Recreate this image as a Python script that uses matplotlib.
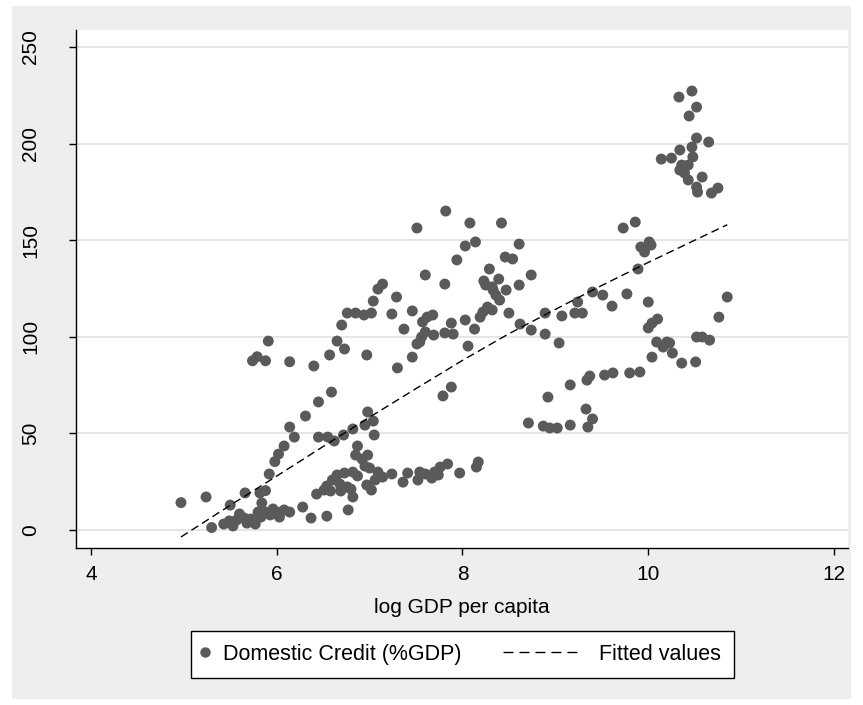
import numpy as np
import matplotlib
matplotlib.use('Agg')
import matplotlib.pyplot as plt
from matplotlib.patches import Rectangle
from matplotlib.lines import Line2D
from matplotlib.legend_handler import HandlerLine2D

# scatter: log GDP per capita vs domestic credit (% of GDP)
log_gdp = [
    4.97, 5.24, 5.30, 5.50, 5.66, 5.82, 5.88, 5.92, 5.98, 6.02, 6.08, 6.14, 6.19,
    5.43, 5.49, 5.53, 5.57, 5.60, 5.65, 5.68, 5.72, 5.77, 5.80, 5.83, 5.84, 5.88,
    5.93, 5.96, 6.00, 6.03, 6.08, 6.14, 5.74, 5.79, 5.88, 5.91, 6.14,
    6.28, 6.37, 6.54, 6.43, 6.51, 6.54, 6.58, 6.60, 6.65, 6.68, 6.69, 6.73, 6.76,
    6.80, 6.82, 6.82, 6.87, 6.77, 6.31, 6.45, 6.59, 6.45, 6.55, 6.62, 6.72, 6.82,
    6.87, 6.85, 6.92, 6.98, 6.95, 7.00, 6.95, 6.98, 7.04, 7.05, 7.09, 7.14, 7.06,
    6.97, 7.02, 7.24, 7.36, 7.41, 7.52, 7.54, 7.60, 7.67, 7.70, 7.74, 7.76, 7.84,
    7.97, 8.15, 8.17,
    6.65, 6.73, 6.70, 6.57, 6.40, 6.76, 6.85, 6.94, 7.02, 7.04, 7.09, 7.14, 6.97,
    7.24, 7.29, 7.30, 7.46, 7.37, 7.46, 7.51, 7.62, 7.68, 7.57, 7.60, 7.56, 7.54,
    7.51, 7.69, 7.60,
    7.82, 8.08, 8.42, 8.03, 8.14, 8.61, 7.94, 8.46, 8.54, 8.29, 7.81, 8.23, 8.25,
    8.39, 8.47, 8.61, 8.74, 8.33, 8.36, 8.40, 8.32, 8.32, 7.81, 7.90, 7.88, 8.03,
    8.13, 8.19, 8.22, 8.27, 8.06, 8.50, 8.62, 8.74, 8.89, 8.89, 9.04, 9.07, 7.88,
    7.79,
    8.71, 8.87, 8.94, 9.02, 9.16, 8.92, 9.16, 9.34, 9.37, 9.53, 9.62, 9.80, 9.91,
    9.33, 9.40, 9.35,
    9.21, 9.29, 9.24, 9.40, 9.51, 9.61, 9.77, 9.73, 9.86, 9.92, 9.96, 10.01, 10.03,
    9.89, 10.00, 10.00, 10.04, 10.10, 10.09, 10.16, 10.20, 10.23, 10.04, 10.26,
    10.36, 10.51, 10.52, 10.58, 10.66, 10.76, 10.85,
    10.33, 10.47, 10.52, 10.44, 10.52, 10.65, 10.47, 10.14, 10.25, 10.34, 10.48,
    10.36, 10.43, 10.34, 10.39, 10.58, 10.43, 10.52, 10.53, 10.68, 10.75,
]
credit = [
    14.2, 17.1, 1.3, 12.9, 19.2, 19.2, 20.4, 29.0, 35.4, 39.3, 43.5, 53.3, 48.1,
    3.1, 4.7, 2.1, 5.2, 8.3, 6.2, 3.6, 5.7, 3.1, 9.3, 6.7, 14.0, 9.3,
    7.8, 10.9, 9.3, 6.7, 10.4, 9.3, 87.6, 89.7, 87.6, 97.8, 87.1,
    11.9, 6.2, 7.2, 18.6, 20.7, 22.8, 20.2, 25.9, 28.5, 23.8, 20.2, 29.5, 22.3,
    21.2, 30.0, 17.1, 28.0, 10.4, 59.0, 66.3, 71.4, 48.1, 48.1, 46.1, 49.2, 52.3,
    43.5, 38.8, 36.7, 38.8, 33.1, 32.1, 54.3, 61.1, 56.4, 49.2, 30.0, 27.4, 25.9,
    23.3, 20.7, 29.0, 24.8, 29.5, 25.9, 30.0, 29.0, 26.9, 30.0, 28.5, 32.6, 34.2,
    29.5, 32.6, 35.2,
    97.8, 93.7, 106.1, 90.6, 84.9, 112.3, 112.3, 111.3, 112.3, 118.5, 124.7, 127.3, 90.6,
    111.8, 120.6, 83.9, 89.5, 104.0, 113.4, 156.3, 110.2, 111.3, 107.7, 102.5, 99.9, 97.3,
    96.3, 100.9, 132.0,
    165.1, 158.9, 158.9, 147.0, 149.1, 148.0, 139.8, 141.3, 140.3, 135.1, 127.3, 128.9, 126.8,
    129.9, 124.2, 126.8, 132.0, 124.2, 121.6, 119.0, 113.9, 125.8, 102.0, 101.4, 107.1, 108.7,
    104.0, 110.2, 112.8, 115.4, 95.2, 112.3, 106.6, 103.5, 112.3, 101.4, 96.8, 110.8, 74.0,
    69.4,
    55.4, 53.8, 52.8, 52.8, 54.3, 68.8, 75.1, 77.6, 79.7, 80.2, 81.3, 81.3, 81.8,
    62.6, 57.5, 53.3,
    112.3, 112.3, 118.0, 123.2, 121.6, 115.9, 122.2, 156.3, 159.4, 146.5, 143.9, 149.1, 147.5,
    135.1, 118.0, 104.6, 107.1, 109.2, 97.3, 94.7, 97.3, 96.8, 89.5, 91.6,
    86.4, 87.0, 99.9, 99.9, 98.3, 110.2, 120.6,
    224.1, 227.2, 218.9, 214.3, 202.9, 200.8, 198.2, 192.0, 192.5, 196.7, 193.1,
    188.9, 188.9, 186.3, 184.8, 182.7, 181.2, 177.5, 174.9, 174.4, 177.0,
]

# fitted values line
fit_x = [4.97, 5.5, 6.0, 6.5, 7.0, 7.5, 8.0, 8.5, 9.0, 9.5, 10.0, 10.5, 10.85]
fit_y = [-3.6, 12.8, 27.9, 43.2, 58.4, 73.2, 87.8, 101.6, 114.2, 126.6, 138.5, 150.0, 158.0]

x_ticks = [4, 6, 8, 10, 12]
y_ticks = [0, 50, 100, 150, 200, 250]

font = ['Liberation Sans', 'DejaVu Sans']
dot_color = '#5a5a5a'


class WideDash(HandlerLine2D):
    # dashed legend key that reaches further left than the handle box
    def get_xdata(self, legend, xdescent, ydescent, width, height, fontsize):
        x = np.array([-xdescent - 55.4, -xdescent + width + 0.6])
        return x, x


fig = plt.figure(figsize=(8.63, 7.05), dpi=100)
fig.patch.set_facecolor('white')
fig.add_artist(Rectangle((12 / 863, 6 / 705), 839 / 863, 693 / 705,
                         transform=fig.transFigure, facecolor='#eeeeee',
                         edgecolor='none', zorder=0))

ax = fig.add_axes([76 / 863, 1 - 548 / 705, 772 / 863, 518 / 705])
ax.set_zorder(1)
ax.set_facecolor('white')

ax.scatter(log_gdp, credit, s=62, color=dot_color, edgecolors='none', zorder=3)
ax.plot(fit_x, fit_y, color='black', lw=1.0, dashes=(5.8, 3.2), zorder=4)

ax.set_xlim(3.84, 12.15)
ax.set_ylim(-9.3, 258.8)
ax.set_xticks(x_ticks)
ax.set_yticks(y_ticks)
ax.yaxis.grid(True, color='#e3e3e3', lw=1.3)
ax.set_axisbelow(True)

for s in ['top', 'right']:
    ax.spines[s].set_visible(False)
for s in ['left', 'bottom']:
    ax.spines[s].set_color('black')
    ax.spines[s].set_linewidth(1.0)

ax.tick_params(direction='out', length=5, width=1, color='black')
ax.tick_params(axis='x', pad=7, labelsize=15)
ax.tick_params(axis='y', pad=21, labelsize=15, labelrotation=90)
for lab in ax.get_xticklabels() + ax.get_yticklabels():
    lab.set_fontfamily(font)
for lab in ax.get_yticklabels():
    lab.set_va('center')

ax.set_xlabel('log GDP per capita', fontsize=15, family=font, labelpad=10)

dot_key = Line2D([], [], marker='o', ls='none', color=dot_color, mec='none', markersize=7.5)
dash_key = Line2D([], [], color='black', lw=1.0, dashes=(7.2, 4.3))
leg = fig.legend([dot_key, dash_key], ['Domestic Credit (%GDP)', 'Fitted values'],
                 loc='center', bbox_to_anchor=(462.5 / 863, 1 - 654.5 / 705),
                 ncol=2, prop={'family': font, 'size': 15.5},
                 handlelength=0.1, handletextpad=0.786, columnspacing=5.53,
                 borderpad=0.6, fancybox=False, framealpha=1, edgecolor='black',
                 handler_map={dash_key: WideDash()})
leg.get_frame().set_linewidth(1.0)
leg.set_zorder(2)

fig.savefig('out.png', dpi=100)
